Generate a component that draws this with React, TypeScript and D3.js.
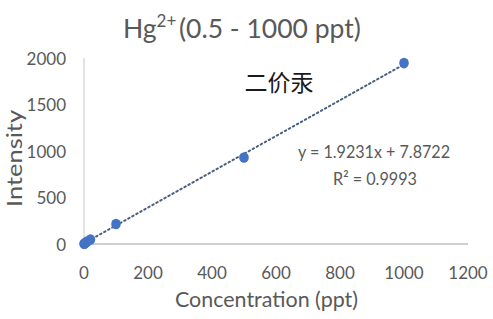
import React from "react";
import * as d3 from "d3";

const concentrations = [0.5, 1, 5, 10, 20, 100, 500, 1000];
const intensities = [2, 4, 14, 27, 48, 215, 930, 1945];
const xTicks = [0, 200, 400, 600, 800, 1000, 1200];
const yTicks = [0, 500, 1000, 1500, 2000];
const slope = 1.9231;
const intercept = 7.8722;

const W = 493;
const H = 319;
const margin = { left: 84, right: 25, top: 58, bottom: 75 };
const FONT = "Lato, 'Open Sans', sans-serif";

export default function App() {
  const x = d3.scaleLinear().domain([0, 1200]).range([margin.left, W - margin.right]);
  const y = d3.scaleLinear().domain([0, 2000]).range([H - margin.bottom, margin.top]);
  const line = d3
    .line<number>()
    .x((d) => x(d))
    .y((d) => y(slope * d + intercept));
  const trendX = [0, 1000];
  return (
    <svg
      width={W}
      height={H}
      style={{ position: "absolute", left: 0, top: 0, background: "#fff" }}
      fontFamily={FONT}
    >
      <rect width={W} height={H} fill="#fff" />
      <text x={123} y={38} textAnchor="start" fontSize={26.5} fill="#595959">
        Hg
        <tspan dy={-11} fontSize={17}>2+</tspan>
        <tspan dy={11} x={179}>(0.5 - 1000 ppt)</tspan>
      </text>
      <text
        x={279}
        y={91}
        textAnchor="middle"
        fontSize={23}
        fill="#1a1a1a"
        fontFamily="'Noto Sans CJK SC', sans-serif"
      >
        二价汞
      </text>
      {/* axes */}
      <line x1={x(0)} x2={x(1200)} y1={y(0)} y2={y(0)} stroke="#bfbfbf" strokeWidth={1.5} />
      <line x1={x(0)} x2={x(0)} y1={y(0)} y2={y(2000)} stroke="#d0d0d0" strokeWidth={1.2} />
      {xTicks.map((t) => (
        <text key={t} x={x(t)} y={y(0) + 35} textAnchor="middle" fontSize={17} fill="#595959">
          {t}
        </text>
      ))}
      {yTicks.map((t) => (
        <text key={t} x={x(0) - 18} y={y(t) + 6.5} textAnchor="end" fontSize={17} fill="#595959">
          {t}
        </text>
      ))}
      <text
        x={266.5}
        y={307}
        textAnchor="middle"
        fontSize={22}
        fill="#595959"
        textLength={183}
        lengthAdjust="spacingAndGlyphs"
      >
        Concentration (ppt)
      </text>
      <text
        transform={`translate(21.5,158.5) rotate(-90)`}
        textAnchor="middle"
        fontSize={22}
        fill="#595959"
        textLength={97}
        lengthAdjust="spacingAndGlyphs"
      >
        Intensity
      </text>
      {/* trendline */}
      <path
        d={line(trendX) || ""}
        fill="none"
        stroke="#4b5f82"
        strokeWidth={2}
        strokeDasharray="1.6 3"
        strokeLinecap="round"
      />
      {concentrations.map((c, i) => (
        <ellipse key={c} cx={x(c)} cy={y(intensities[i])} rx={4.8} ry={5.3} fill="#4472c4" />
      ))}
      <text
        x={374}
        y={158}
        textAnchor="middle"
        fontSize={18}
        fill="#595959"
        textLength={152}
        lengthAdjust="spacingAndGlyphs"
      >
        y = 1.9231x + 7.8722
      </text>
      <text
        x={375}
        y={185}
        textAnchor="middle"
        fontSize={18}
        fill="#595959"
        textLength={84}
        lengthAdjust="spacingAndGlyphs"
      >
        R² = 0.9993
      </text>
    </svg>
  );
}
